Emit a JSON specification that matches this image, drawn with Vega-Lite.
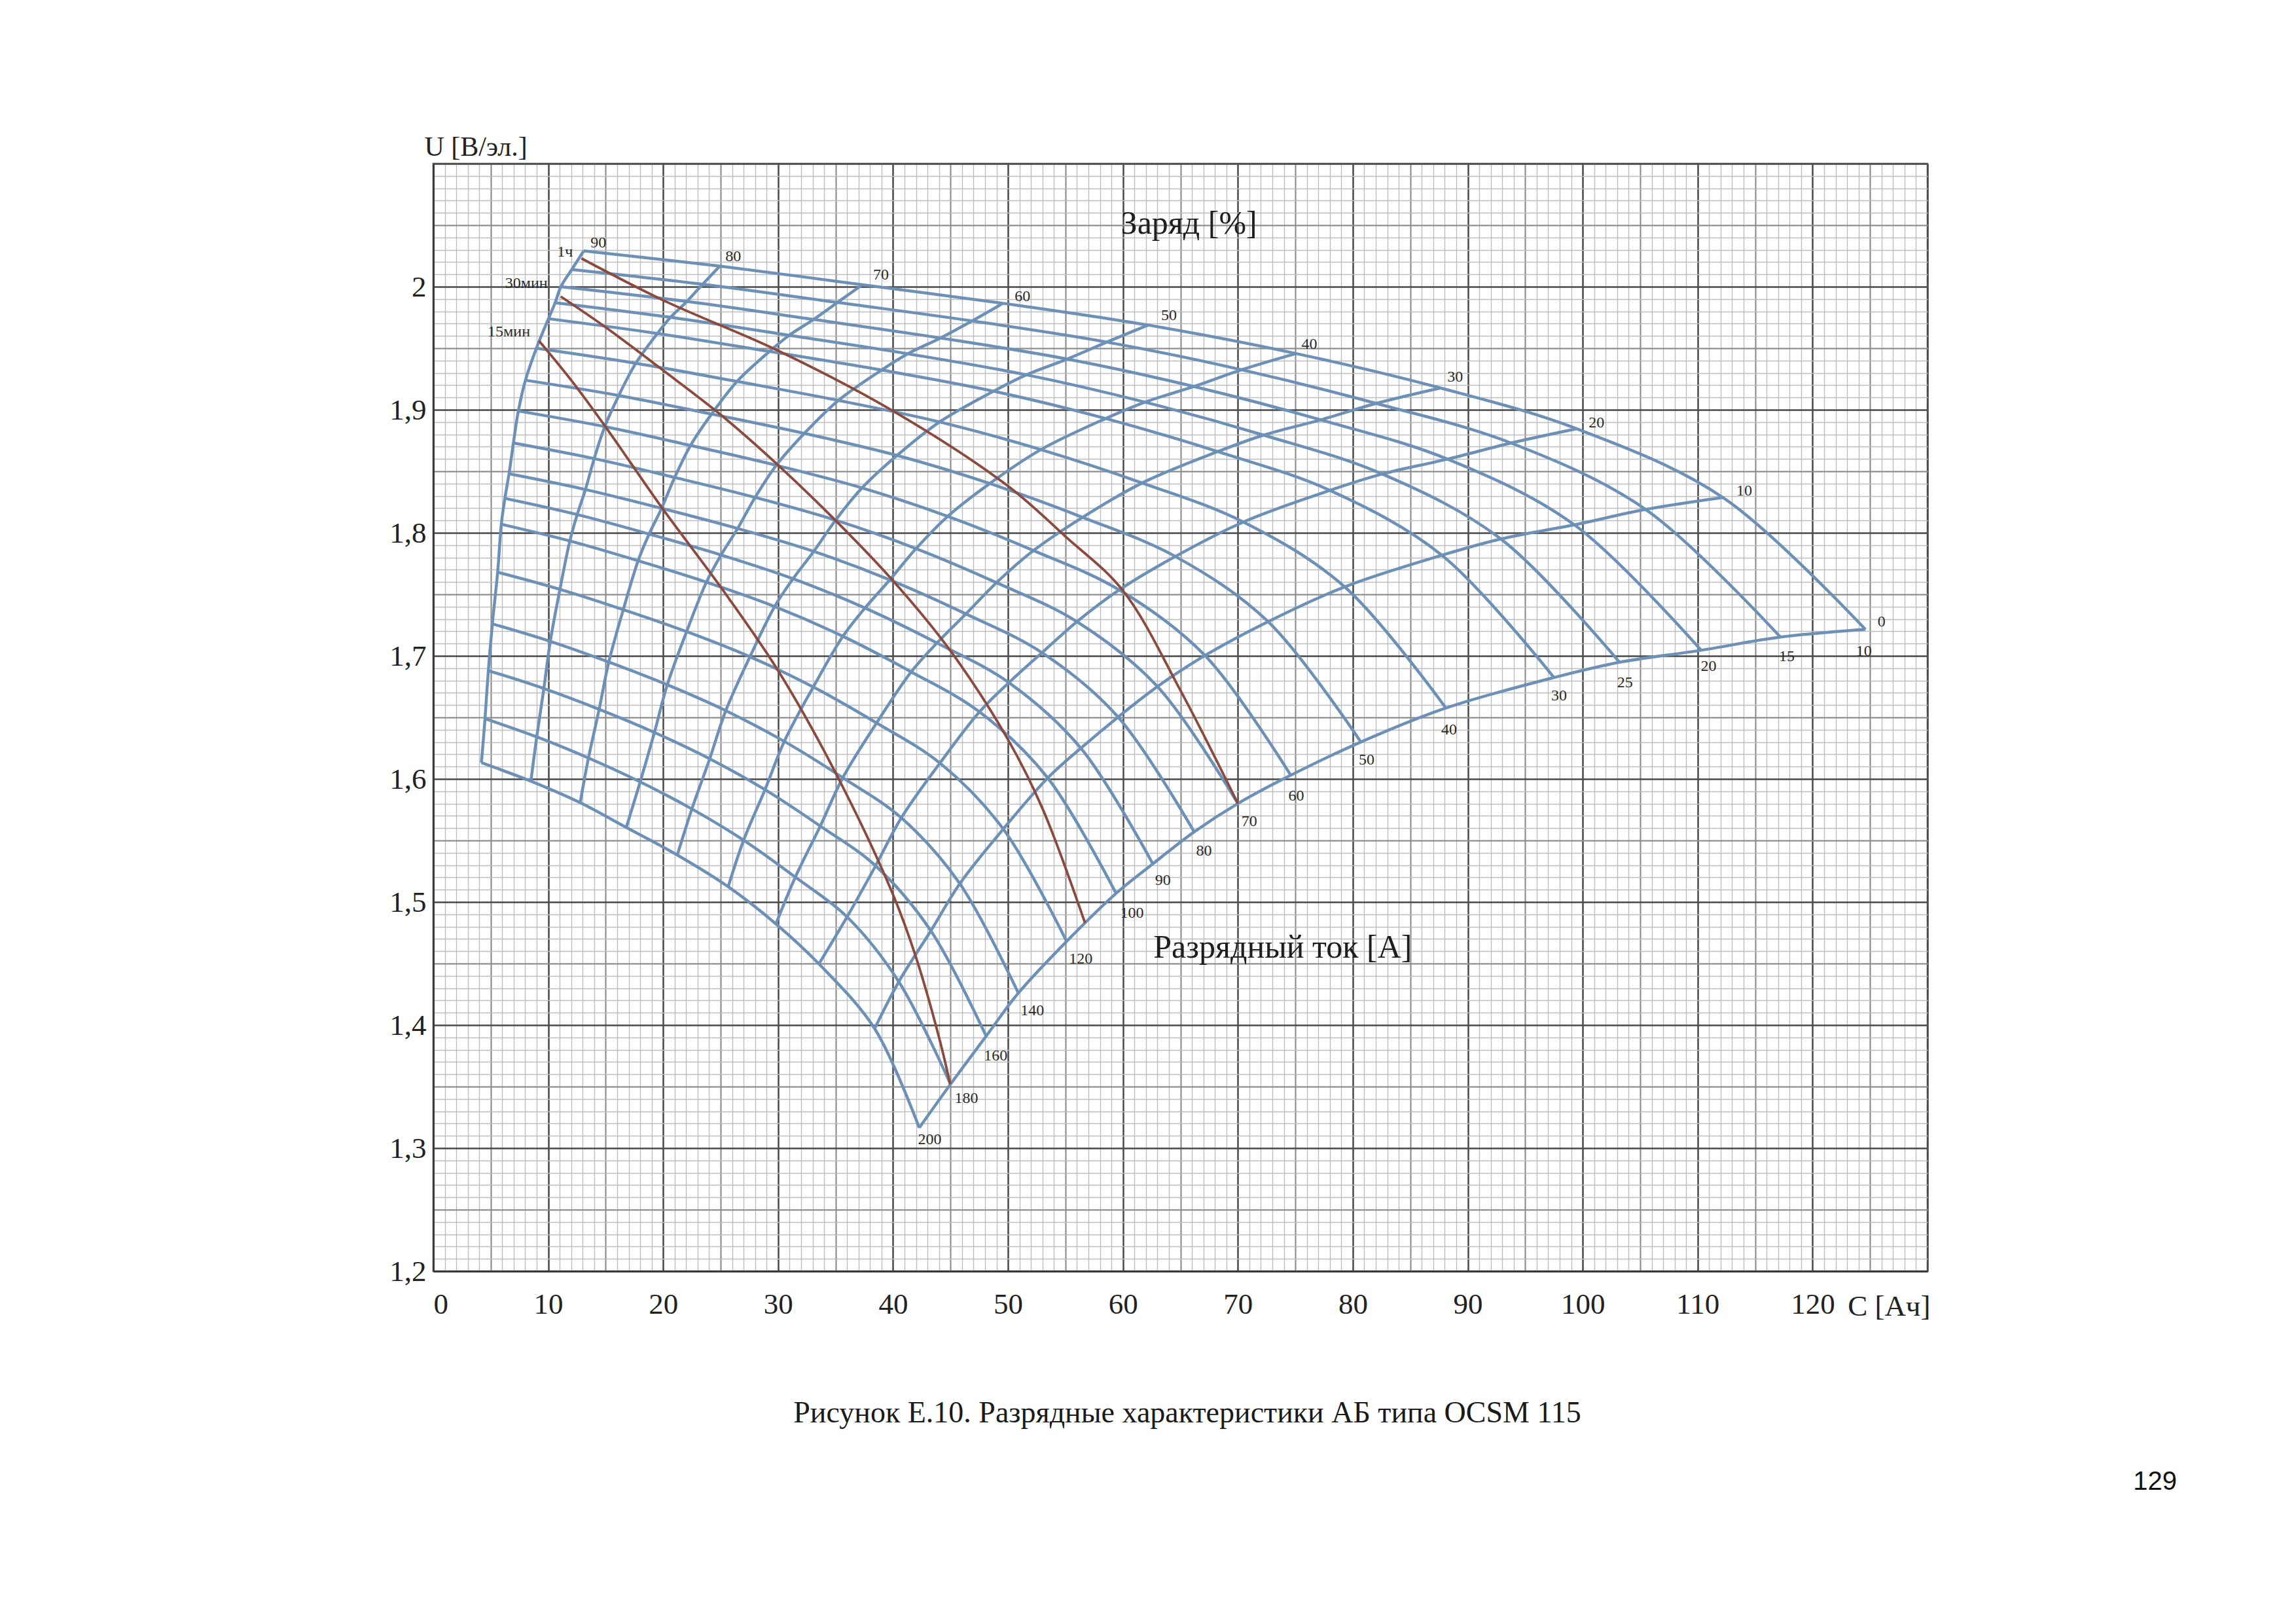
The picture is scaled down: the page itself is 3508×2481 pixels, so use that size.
{
  "$schema": "https://vega.github.io/schema/vega-lite/v6.json",
  "width": 2283,
  "height": 1692,
  "autosize": {"type": "none"},
  "padding": {"left": 662, "top": 250, "right": 563, "bottom": 539},
  "background": "white",
  "config": {
    "view": {"stroke": "#4a4a4a", "strokeWidth": 2.5},
    "axis": {"labelFont": "Liberation Serif", "titleFont": "Liberation Serif"}
  },
  "datasets": {
    "grid": [
      {"I":10,"k":90,"C":13.09,"U":2.0291},{"I":10,"k":80,"C":24.92,"U":2.0167},{"I":10,"k":70,"C":37.34,"U":2.0016},{"I":10,"k":60,"C":49.57,"U":1.9865},{"I":10,"k":50,"C":62.19,"U":1.9688},{"I":10,"k":40,"C":75.06,"U":1.9457},{"I":10,"k":30,"C":87.63,"U":1.9177},{"I":10,"k":20,"C":99.47,"U":1.8846},{"I":10,"k":10,"C":112.2,"U":1.8287},{"I":10,"k":0,"C":124.6,"U":1.7215},
      {"I":15,"k":90,"C":12.05,"U":2.014},{"I":15,"k":80,"C":23.44,"U":2.002},{"I":15,"k":70,"C":35.16,"U":1.9872},{"I":15,"k":60,"C":46.88,"U":1.9722},{"I":15,"k":50,"C":58.6,"U":1.955},{"I":15,"k":40,"C":70.32,"U":1.9325},{"I":15,"k":30,"C":82.04,"U":1.9052},{"I":15,"k":20,"C":93.76,"U":1.873},{"I":15,"k":10,"C":105.48,"U":1.819},{"I":15,"k":0,"C":117.2,"U":1.7153},
      {"I":20,"k":90,"C":11.1,"U":2.0},{"I":20,"k":80,"C":22.06,"U":1.988},{"I":20,"k":70,"C":33.09,"U":1.9734},{"I":20,"k":60,"C":44.12,"U":1.9583},{"I":20,"k":50,"C":55.15,"U":1.9412},{"I":20,"k":40,"C":66.18,"U":1.9189},{"I":20,"k":30,"C":77.21,"U":1.8918},{"I":20,"k":20,"C":88.24,"U":1.8599},{"I":20,"k":10,"C":99.27,"U":1.8065},{"I":20,"k":0,"C":110.3,"U":1.7046},
      {"I":25,"k":90,"C":10.6,"U":1.987},{"I":25,"k":80,"C":20.64,"U":1.9751},{"I":25,"k":70,"C":30.96,"U":1.9605},{"I":25,"k":60,"C":41.28,"U":1.9455},{"I":25,"k":50,"C":51.6,"U":1.9284},{"I":25,"k":40,"C":61.92,"U":1.9062},{"I":25,"k":30,"C":72.24,"U":1.8794},{"I":25,"k":20,"C":82.56,"U":1.8478},{"I":25,"k":10,"C":92.88,"U":1.795},{"I":25,"k":0,"C":103.2,"U":1.6948},
      {"I":30,"k":90,"C":10.02,"U":1.974},{"I":30,"k":80,"C":19.5,"U":1.962},{"I":30,"k":70,"C":29.25,"U":1.9474},{"I":30,"k":60,"C":39.0,"U":1.9323},{"I":30,"k":50,"C":48.75,"U":1.9151},{"I":30,"k":40,"C":58.5,"U":1.8929},{"I":30,"k":30,"C":68.25,"U":1.866},{"I":30,"k":20,"C":78.0,"U":1.8345},{"I":30,"k":10,"C":87.75,"U":1.7818},{"I":30,"k":0,"C":97.5,"U":1.6824},
      {"I":40,"k":90,"C":8.97,"U":1.95},{"I":40,"k":80,"C":17.62,"U":1.9378},{"I":40,"k":70,"C":26.43,"U":1.923},{"I":40,"k":60,"C":35.24,"U":1.9076},{"I":40,"k":50,"C":44.05,"U":1.8901},{"I":40,"k":40,"C":52.86,"U":1.8676},{"I":40,"k":30,"C":61.67,"U":1.8405},{"I":40,"k":20,"C":70.48,"U":1.8088},{"I":40,"k":10,"C":79.29,"U":1.7561},{"I":40,"k":0,"C":88.1,"U":1.6576},
      {"I":50,"k":90,"C":8.02,"U":1.924},{"I":50,"k":80,"C":16.14,"U":1.9116},{"I":50,"k":70,"C":24.21,"U":1.8965},{"I":50,"k":60,"C":32.28,"U":1.8808},{"I":50,"k":50,"C":40.35,"U":1.8629},{"I":50,"k":40,"C":48.42,"U":1.8401},{"I":50,"k":30,"C":56.49,"U":1.8126},{"I":50,"k":20,"C":64.56,"U":1.7808},{"I":50,"k":10,"C":72.63,"U":1.7278},{"I":50,"k":0,"C":80.7,"U":1.63},
      {"I":60,"k":90,"C":7.4,"U":1.899},{"I":60,"k":80,"C":14.92,"U":1.8863},{"I":60,"k":70,"C":22.38,"U":1.871},{"I":60,"k":60,"C":29.84,"U":1.8549},{"I":60,"k":50,"C":37.3,"U":1.8365},{"I":60,"k":40,"C":44.76,"U":1.8134},{"I":60,"k":30,"C":52.22,"U":1.7856},{"I":60,"k":20,"C":59.68,"U":1.7536},{"I":60,"k":10,"C":67.14,"U":1.7003},{"I":60,"k":0,"C":74.6,"U":1.603},
      {"I":70,"k":90,"C":6.97,"U":1.873},{"I":70,"k":80,"C":14.0,"U":1.8603},{"I":70,"k":70,"C":21.0,"U":1.845},{"I":70,"k":60,"C":28.0,"U":1.8288},{"I":70,"k":50,"C":35.0,"U":1.8103},{"I":70,"k":40,"C":42.0,"U":1.7872},{"I":70,"k":30,"C":49.0,"U":1.7595},{"I":70,"k":20,"C":56.0,"U":1.7278},{"I":70,"k":10,"C":63.0,"U":1.6751},{"I":70,"k":0,"C":70.0,"U":1.58},
      {"I":80,"k":90,"C":6.59,"U":1.848},{"I":80,"k":80,"C":13.24,"U":1.8352},{"I":80,"k":70,"C":19.86,"U":1.8199},{"I":80,"k":60,"C":26.48,"U":1.8035},{"I":80,"k":50,"C":33.1,"U":1.7849},{"I":80,"k":40,"C":39.72,"U":1.7618},{"I":80,"k":30,"C":46.34,"U":1.7341},{"I":80,"k":20,"C":52.96,"U":1.7026},{"I":80,"k":10,"C":59.58,"U":1.6503},{"I":80,"k":0,"C":66.2,"U":1.557},
      {"I":90,"k":90,"C":6.23,"U":1.828},{"I":90,"k":80,"C":12.52,"U":1.8148},{"I":90,"k":70,"C":18.78,"U":1.799},{"I":90,"k":60,"C":25.04,"U":1.782},{"I":90,"k":50,"C":31.3,"U":1.7627},{"I":90,"k":40,"C":37.56,"U":1.7389},{"I":90,"k":30,"C":43.82,"U":1.7105},{"I":90,"k":20,"C":50.08,"U":1.6783},{"I":90,"k":10,"C":56.34,"U":1.625},{"I":90,"k":0,"C":62.6,"U":1.531},
      {"I":100,"k":90,"C":5.92,"U":1.807},{"I":100,"k":80,"C":11.88,"U":1.7934},{"I":100,"k":70,"C":17.82,"U":1.7773},{"I":100,"k":60,"C":23.76,"U":1.7599},{"I":100,"k":50,"C":29.7,"U":1.7401},{"I":100,"k":40,"C":35.64,"U":1.7159},{"I":100,"k":30,"C":41.58,"U":1.687},{"I":100,"k":20,"C":47.52,"U":1.6545},{"I":100,"k":10,"C":53.46,"U":1.6008},{"I":100,"k":0,"C":59.4,"U":1.507},
      {"I":120,"k":90,"C":5.6,"U":1.768},{"I":120,"k":80,"C":11.02,"U":1.7541},{"I":120,"k":70,"C":16.53,"U":1.7376},{"I":120,"k":60,"C":22.04,"U":1.7197},{"I":120,"k":50,"C":27.55,"U":1.6993},{"I":120,"k":40,"C":33.06,"U":1.6747},{"I":120,"k":30,"C":38.57,"U":1.6455},{"I":120,"k":20,"C":44.08,"U":1.6129},{"I":120,"k":10,"C":49.59,"U":1.5593},{"I":120,"k":0,"C":55.1,"U":1.468},
      {"I":140,"k":90,"C":5.14,"U":1.726},{"I":140,"k":80,"C":10.18,"U":1.7118},{"I":140,"k":70,"C":15.27,"U":1.695},{"I":140,"k":60,"C":20.36,"U":1.6765},{"I":140,"k":50,"C":25.45,"U":1.6555},{"I":140,"k":40,"C":30.54,"U":1.6305},{"I":140,"k":30,"C":35.63,"U":1.601},{"I":140,"k":20,"C":40.72,"U":1.5684},{"I":140,"k":10,"C":45.81,"U":1.5149},{"I":140,"k":0,"C":50.9,"U":1.426},
      {"I":160,"k":90,"C":4.79,"U":1.688},{"I":160,"k":80,"C":9.62,"U":1.6735},{"I":160,"k":70,"C":14.43,"U":1.6566},{"I":160,"k":60,"C":19.24,"U":1.6378},{"I":160,"k":50,"C":24.05,"U":1.6164},{"I":160,"k":40,"C":28.86,"U":1.5913},{"I":160,"k":30,"C":33.67,"U":1.5617},{"I":160,"k":20,"C":38.48,"U":1.5294},{"I":160,"k":10,"C":43.29,"U":1.4766},{"I":160,"k":0,"C":48.1,"U":1.391},
      {"I":180,"k":90,"C":4.5,"U":1.649},{"I":180,"k":80,"C":9.0,"U":1.6342},{"I":180,"k":70,"C":13.5,"U":1.617},{"I":180,"k":60,"C":18.0,"U":1.5976},{"I":180,"k":50,"C":22.5,"U":1.5756},{"I":180,"k":40,"C":27.0,"U":1.5502},{"I":180,"k":30,"C":31.5,"U":1.5202},{"I":180,"k":20,"C":36.0,"U":1.4879},{"I":180,"k":10,"C":40.5,"U":1.4352},{"I":180,"k":0,"C":45.0,"U":1.352},
      {"I":200,"k":90,"C":4.19,"U":1.6132},{"I":200,"k":80,"C":8.49,"U":1.5982},{"I":200,"k":70,"C":12.78,"U":1.5807},{"I":200,"k":60,"C":16.79,"U":1.5606},{"I":200,"k":50,"C":21.23,"U":1.5382},{"I":200,"k":40,"C":25.66,"U":1.5124},{"I":200,"k":30,"C":29.81,"U":1.4822},{"I":200,"k":20,"C":33.55,"U":1.4497},{"I":200,"k":10,"C":38.4,"U":1.3971},{"I":200,"k":0,"C":42.28,"U":1.3165}
    ],
    "time": [
      {"t":"1ч","C":12.89,"U":2.023},{"t":"1ч","C":20,"U":1.989},{"t":"1ч","C":30,"U":1.948},{"t":"1ч","C":40,"U":1.899},{"t":"1ч","C":50,"U":1.838},{"t":"1ч","C":55,"U":1.797},{"t":"1ч","C":60,"U":1.753},{"t":"1ч","C":65,"U":1.672},{"t":"1ч","C":70,"U":1.58},
      {"t":"30мин","C":11.09,"U":1.992},{"t":"30мин","C":15,"U":1.967},{"t":"30мин","C":20,"U":1.932},{"t":"30мин","C":25,"U":1.896},{"t":"30мин","C":30,"U":1.855},{"t":"30мин","C":35,"U":1.81},{"t":"30мин","C":40,"U":1.761},{"t":"30мин","C":45,"U":1.704},{"t":"30мин","C":50,"U":1.632},{"t":"30мин","C":53,"U":1.576},{"t":"30мин","C":56.7,"U":1.483},
      {"t":"15мин","C":9.2,"U":1.956},{"t":"15мин","C":12,"U":1.924},{"t":"15мин","C":15,"U":1.886},{"t":"15мин","C":20,"U":1.819},{"t":"15мин","C":25,"U":1.756},{"t":"15мин","C":30,"U":1.688},{"t":"15мин","C":35,"U":1.605},{"t":"15мин","C":40,"U":1.506},{"t":"15мин","C":42,"U":1.455},{"t":"15мин","C":44,"U":1.39},{"t":"15мин","C":44.97,"U":1.352}
    ],
    "small": [
      {"txt":"90","C":14.37,"U":2.0358},{"txt":"80","C":26.1,"U":2.0246},{"txt":"70","C":38.95,"U":2.0096},{"txt":"60","C":51.26,"U":1.9919},{"txt":"50","C":64.0,"U":1.9768},{"txt":"40","C":76.22,"U":1.9532},{"txt":"30","C":88.9,"U":1.9266},{"txt":"20","C":101.2,"U":1.8894},{"txt":"10","C":114.06,"U":1.834},{"txt":"0","C":126.0,"U":1.7277},
      {"txt":"10","C":124.46,"U":1.7037},{"txt":"15","C":117.76,"U":1.6993},{"txt":"20","C":110.95,"U":1.6913},{"txt":"25","C":103.68,"U":1.678},{"txt":"30","C":97.94,"U":1.6674},{"txt":"40","C":88.37,"U":1.6399},{"txt":"50","C":81.2,"U":1.6153},{"txt":"60","C":75.08,"U":1.5864},{"txt":"70","C":71.0,"U":1.5655},{"txt":"80","C":67.05,"U":1.5414},{"txt":"90","C":63.47,"U":1.5174},{"txt":"100","C":60.79,"U":1.4908},{"txt":"120","C":56.33,"U":1.4536},{"txt":"140","C":52.12,"U":1.4117},{"txt":"160","C":48.93,"U":1.3751},{"txt":"180","C":46.38,"U":1.3406},{"txt":"200","C":43.19,"U":1.3071},
      {"txt":"1ч","C":11.46,"U":2.0282},{"txt":"30мин","C":8.1,"U":2.0025},{"txt":"15мин","C":6.58,"U":1.9635}
    ],
    "big": [
      {"txt":"Заряд [%]","C":65.75,"U":2.051},
      {"txt":"Разрядный ток [А]","C":73.9,"U":1.463}
    ],
    "caption": [
      {"txt":"Рисунок Е.10. Разрядные характеристики АБ типа OCSM 115","C":65.6,"U":1.0846}
    ],
    "page": [
      {"txt":"129","C":149.8,"U":1.0287}
    ]
  },
  "encoding": {
    "x": {"field": "C", "type": "quantitative", "scale": {"domain": [0, 130], "nice": false, "zero": false}, "axis": null},
    "y": {"field": "U", "type": "quantitative", "scale": {"domain": [1.2, 2.1], "nice": false, "zero": false}, "axis": null}
  },
  "layer": [
    {
      "data": {"name": "grid"},
      "mark": {"type": "point", "opacity": 0},
      "encoding": {
        "x": {"field": "C", "type": "quantitative", "axis": {"orient": "bottom", "values": [0,1,2,3,4,5,6,7,8,9,10,11,12,13,14,15,16,17,18,19,20,21,22,23,24,25,26,27,28,29,30,31,32,33,34,35,36,37,38,39,40,41,42,43,44,45,46,47,48,49,50,51,52,53,54,55,56,57,58,59,60,61,62,63,64,65,66,67,68,69,70,71,72,73,74,75,76,77,78,79,80,81,82,83,84,85,86,87,88,89,90,91,92,93,94,95,96,97,98,99,100,101,102,103,104,105,106,107,108,109,110,111,112,113,114,115,116,117,118,119,120,121,122,123,124,125,126,127,128,129,130], "grid": true, "gridColor": "#bdbdbd", "gridWidth": 1.4, "labels": false, "ticks": false, "domain": false, "title": null}},
        "y": {"field": "U", "type": "quantitative", "axis": {"orient": "left", "values": [1.2,1.21,1.22,1.23,1.24,1.25,1.26,1.27,1.28,1.29,1.3,1.31,1.32,1.33,1.34,1.35,1.36,1.37,1.38,1.39,1.4,1.41,1.42,1.43,1.44,1.45,1.46,1.47,1.48,1.49,1.5,1.51,1.52,1.53,1.54,1.55,1.56,1.57,1.58,1.59,1.6,1.61,1.62,1.63,1.64,1.65,1.66,1.67,1.68,1.69,1.7,1.71,1.72,1.73,1.74,1.75,1.76,1.77,1.78,1.79,1.8,1.81,1.82,1.83,1.84,1.85,1.86,1.87,1.88,1.89,1.9,1.91,1.92,1.93,1.94,1.95,1.96,1.97,1.98,1.99,2.0,2.01,2.02,2.03,2.04,2.05,2.06,2.07,2.08,2.09,2.1], "grid": true, "gridColor": "#bdbdbd", "gridWidth": 1.4, "labels": false, "ticks": false, "domain": false, "title": null}}
      }
    },
    {
      "data": {"name": "grid"},
      "mark": {"type": "point", "opacity": 0},
      "encoding": {
        "x": {"field": "C", "type": "quantitative", "axis": {"orient": "bottom", "values": [5,15,25,35,45,55,65,75,85,95,105,115,125], "grid": true, "gridColor": "#8a8a8a", "gridWidth": 2, "labels": false, "ticks": false, "domain": false, "title": null}},
        "y": {"field": "U", "type": "quantitative", "axis": {"orient": "left", "values": [1.25,1.35,1.45,1.55,1.65,1.75,1.85,1.95,2.05], "grid": true, "gridColor": "#8a8a8a", "gridWidth": 2, "labels": false, "ticks": false, "domain": false, "title": null}}
      }
    },
    {
      "data": {"name": "grid"},
      "mark": {"type": "point", "opacity": 0},
      "encoding": {
        "x": {"field": "C", "type": "quantitative", "axis": {
          "orient": "bottom", "values": [0,10,20,30,40,50,60,70,80,90,100,110,120,130],
          "grid": true, "gridColor": "#4a4a4a", "gridWidth": 2.5,
          "ticks": false, "domain": true, "domainColor": "#3a3a3a", "domainWidth": 3,
          "labelExpr": "datum.value > 125 ? '' : datum.label",
          "labelFont": "Liberation Serif", "labelFontSize": 45, "labelColor": "#222222", "labelPadding": 28,
          "title": "C [Ач]", "titleFont": "Liberation Serif", "titleFontSize": 45, "titleFontWeight": "normal", "titleColor": "#222222",
          "titleX": 2287, "titleY": 53, "titleAlign": "right", "titleBaseline": "middle"
        }},
        "y": {"field": "U", "type": "quantitative", "axis": {
          "orient": "left", "values": [1.2,1.3,1.4,1.5,1.6,1.7,1.8,1.9,2.0,2.1],
          "grid": true, "gridColor": "#4a4a4a", "gridWidth": 2.5,
          "ticks": false, "domain": true, "domainColor": "#3a3a3a", "domainWidth": 3,
          "labelExpr": "datum.value > 2.05 ? '' : (datum.value > 1.95 ? '2' : replace(format(datum.value, '.1f'), '.', ','))",
          "labelFont": "Liberation Serif", "labelFontSize": 45, "labelColor": "#222222", "labelPadding": 11,
          "title": "U [В/эл.]", "titleFont": "Liberation Serif", "titleFontSize": 42, "titleFontWeight": "normal", "titleColor": "#222222",
          "titleAngle": 0, "titleX": -14, "titleY": -26, "titleAlign": "left", "titleBaseline": "middle"
        }}
      }
    },
    {
      "data": {"name": "grid"},
      "mark": {"type": "line", "interpolate": "catmull-rom", "stroke": "#6d90b6", "strokeWidth": 4.5},
      "encoding": {"detail": {"field": "I", "type": "nominal"}, "order": {"field": "C", "type": "quantitative"}}
    },
    {
      "data": {"name": "grid"},
      "mark": {"type": "line", "interpolate": "catmull-rom", "stroke": "#6d90b6", "strokeWidth": 4.5},
      "encoding": {"detail": {"field": "k", "type": "nominal"}, "order": {"field": "I", "type": "quantitative"}}
    },
    {
      "data": {"name": "time"},
      "mark": {"type": "line", "interpolate": "catmull-rom", "stroke": "#8a4a3e", "strokeWidth": 3.8},
      "encoding": {"detail": {"field": "t", "type": "nominal"}, "order": {"field": "C", "type": "quantitative"}}
    },
    {
      "data": {"name": "small"},
      "mark": {"type": "text", "font": "Liberation Serif", "fontSize": 24, "fill": "#2a2a2a", "align": "center", "baseline": "middle"},
      "encoding": {"text": {"field": "txt", "type": "nominal"}}
    },
    {
      "data": {"name": "big"},
      "mark": {"type": "text", "font": "Liberation Serif", "fontSize": 50, "fill": "#1e1e1e", "align": "center", "baseline": "middle"},
      "encoding": {"text": {"field": "txt", "type": "nominal"}}
    },
    {
      "data": {"name": "caption"},
      "mark": {"type": "text", "font": "Liberation Serif", "fontSize": 46, "fill": "#1a1a1a", "align": "center", "baseline": "middle"},
      "encoding": {"text": {"field": "txt", "type": "nominal"}}
    },
    {
      "data": {"name": "page"},
      "mark": {"type": "text", "font": "Liberation Sans", "fontSize": 40, "fill": "#111111", "align": "center", "baseline": "middle"},
      "encoding": {"text": {"field": "txt", "type": "nominal"}}
    }
  ],
  "resolve": {"axis": {"x": "independent", "y": "independent"}}
}
